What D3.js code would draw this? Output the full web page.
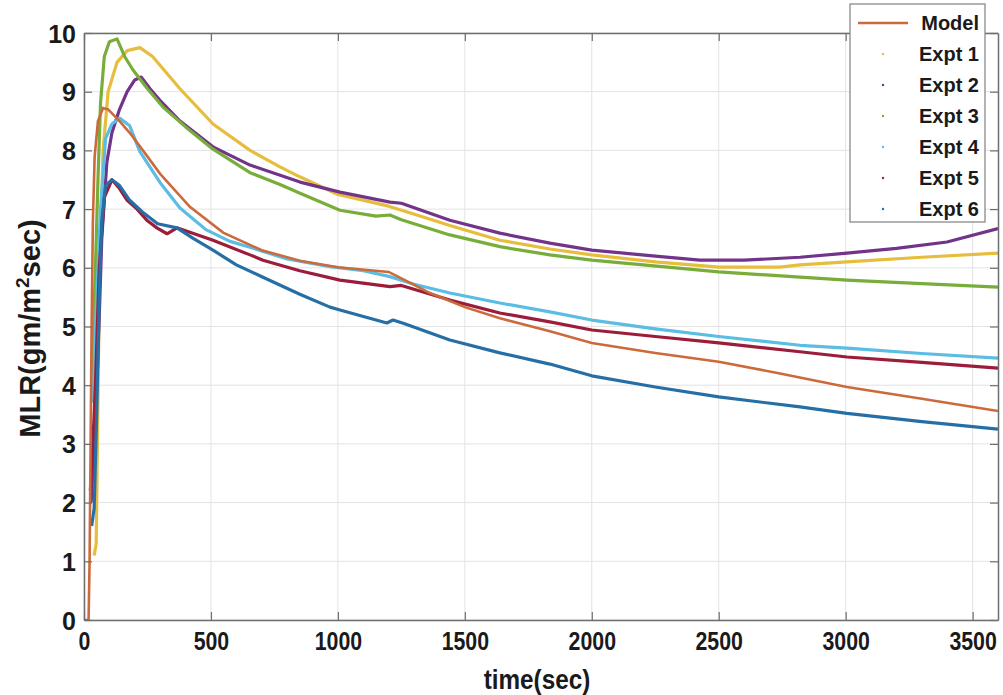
<!DOCTYPE html>
<html>
<head>
<meta charset="utf-8">
<script src="https://cdn.jsdelivr.net/npm/d3@7"></script>
<style>
  html, body { margin: 0; padding: 0; background: #fff; }
  svg { display: block; font-family: "Liberation Sans", Arial, sans-serif; }
</style>
</head>
<body>
<svg id="chart" width="1003" height="695"></svg>
<script>
// [time (sec), MLR]
var model = [[0,0],[18,0],[22,1],[26,3],[30,5],[35,6.8],[42,7.9],[55,8.5],[75,8.72],[95,8.7],[140,8.5],[180,8.3],[232,8.0],[300,7.6],[417,7.04],[548,6.6],[700,6.3],[850,6.12],[1000,6.01],[1200,5.93],[1260,5.8],[1363,5.57],[1500,5.33],[1638,5.14],[1835,4.92],[2000,4.72],[2250,4.55],[2500,4.4],[2741,4.2],[3005,3.97],[3300,3.77],[3600,3.56]];
var expt1 = [[40,1.1],[48,1.3],[60,5.5],[75,8.0],[95,9.0],[130,9.5],[170,9.7],[220,9.75],[270,9.6],[378,9.05],[508,8.45],[654,8.0],[772,7.72],[850,7.55],[1000,7.25],[1200,7.05],[1311,6.9],[1441,6.72],[1638,6.47],[1835,6.32],[2000,6.22],[2250,6.1],[2500,6.01],[2741,6.01],[2820,6.05],[3005,6.1],[3300,6.18],[3600,6.25]];
var expt2 = [[28,2.0],[40,3.0],[55,4.5],[70,6.5],[90,7.8],[110,8.3],[140,8.7],[170,9.0],[200,9.2],[225,9.25],[260,9.05],[300,8.85],[378,8.5],[508,8.06],[654,7.75],[851,7.46],[1008,7.29],[1205,7.12],[1250,7.1],[1441,6.81],[1638,6.59],[1835,6.42],[2000,6.3],[2250,6.2],[2426,6.13],[2600,6.13],[2820,6.18],[3005,6.25],[3200,6.33],[3399,6.44],[3600,6.67]];
var expt3 = [[30,4.0],[45,6.0],[55,7.5],[65,8.8],[80,9.6],[100,9.85],[130,9.9],[160,9.6],[193,9.37],[250,9.05],[311,8.74],[400,8.4],[508,8.02],[654,7.62],[772,7.42],[851,7.27],[1008,6.98],[1150,6.88],[1205,6.9],[1250,6.82],[1441,6.56],[1638,6.36],[1835,6.22],[2000,6.13],[2500,5.93],[2820,5.84],[3005,5.79],[3300,5.73],[3600,5.67]];
var expt4 = [[35,3.7],[50,5.5],[65,7.0],[85,8.2],[110,8.45],[140,8.55],[180,8.42],[220,7.98],[300,7.45],[378,7.02],[480,6.65],[575,6.45],[654,6.35],[800,6.15],[969,6.02],[1100,5.95],[1205,5.85],[1300,5.72],[1441,5.57],[1638,5.4],[1835,5.25],[2000,5.11],[2250,4.96],[2500,4.83],[2820,4.68],[3005,4.63],[3300,4.54],[3600,4.46]];
var expt5 = [[25,2.2],[35,3.0],[45,4.0],[60,6.0],[80,7.2],[110,7.5],[140,7.35],[170,7.15],[209,7.0],[250,6.8],[287,6.68],[327,6.58],[366,6.68],[420,6.6],[508,6.47],[654,6.22],[705,6.13],[850,5.95],[1008,5.79],[1205,5.68],[1250,5.7],[1441,5.45],[1638,5.23],[1835,5.08],[2000,4.94],[2250,4.83],[2500,4.72],[2820,4.57],[3005,4.48],[3300,4.39],[3600,4.29]];
var expt6 = [[30,1.6],[40,1.9],[50,3.5],[60,5.5],[70,6.8],[85,7.4],[110,7.5],[140,7.4],[180,7.15],[230,6.95],[290,6.75],[366,6.68],[430,6.5],[508,6.3],[600,6.05],[705,5.84],[850,5.55],[969,5.33],[1008,5.28],[1193,5.06],[1217,5.11],[1260,5.05],[1441,4.77],[1638,4.55],[1835,4.36],[2000,4.16],[2250,3.97],[2500,3.8],[2820,3.63],[3005,3.52],[3300,3.38],[3600,3.25]];

var seriesNames = ['Model', 'Expt 1', 'Expt 2', 'Expt 3', 'Expt 4', 'Expt 5', 'Expt 6'];
var seriesData = [model, expt1, expt2, expt3, expt4, expt5, expt6];
var seriesColors = ['#cc6a3c', '#e6bd3c', '#72338a', '#79ad3a', '#5bbde3', '#9c1d3a', '#266fa6'];
var xTicks = [0, 500, 1000, 1500, 2000, 2500, 3000, 3500];
var yTicks = [0, 1, 2, 3, 4, 5, 6, 7, 8, 9, 10];

var margin = {top: 33, right: 5, bottom: 75, left: 84};
var W = 1003, H = 695;
var pw = W - margin.left - margin.right;
var ph = H - margin.top - margin.bottom;

var svg = d3.select('#chart');
var g = svg.append('g').attr('transform', 'translate(' + margin.left + ',' + margin.top + ')');

var x = d3.scaleLinear().domain([0, 3600]).range([0, pw]);
var y = d3.scaleLinear().domain([0, 10]).range([ph, 0]);

// grid
g.append('g').selectAll('line').data(xTicks).enter().append('line')
    .attr('x1', function (d) { return x(d); }).attr('x2', function (d) { return x(d); })
    .attr('y1', 0).attr('y2', ph)
    .attr('stroke', '#e3e3e3').attr('stroke-width', 1);
g.append('g').selectAll('line').data(yTicks).enter().append('line')
    .attr('x1', 0).attr('x2', pw)
    .attr('y1', function (d) { return y(d); }).attr('y2', function (d) { return y(d); })
    .attr('stroke', '#e3e3e3').attr('stroke-width', 1);

g.append('clipPath').attr('id', 'clip').append('rect')
    .attr('x', 0).attr('y', -2).attr('width', pw).attr('height', ph + 2);

var line = d3.line()
    .x(function (d) { return x(d[0]); })
    .y(function (d) { return y(d[1]); });

var plot = g.append('g').attr('clip-path', 'url(#clip)');
// experiments first, model on top
for (var i = 1; i < seriesData.length; i++) {
    plot.append('path')
        .datum(seriesData[i])
        .attr('fill', 'none')
        .attr('stroke', seriesColors[i])
        .attr('stroke-width', 3.2)
        .attr('stroke-linejoin', 'round')
        .attr('d', line);
}
plot.append('path')
    .datum(model)
    .attr('fill', 'none')
    .attr('stroke', seriesColors[0])
    .attr('stroke-width', 2.6)
    .attr('d', line);

// axes (ticks inside, box on)
var axisColor = '#6e6e6e';
var xAxis = g.append('g').attr('transform', 'translate(0,' + ph + ')')
    .call(d3.axisBottom(x).tickValues(xTicks).tickFormat(d3.format('d')).tickSize(-8).tickSizeOuter(0).tickPadding(12));
var yAxis = g.append('g')
    .call(d3.axisLeft(y).tickValues(yTicks).tickFormat(d3.format('d')).tickSize(-8).tickSizeOuter(0).tickPadding(8));
var topAxis = g.append('g')
    .call(d3.axisTop(x).tickValues(xTicks).tickSize(-8).tickSizeOuter(0).tickFormat(''));
var rightAxis = g.append('g').attr('transform', 'translate(' + pw + ',0)')
    .call(d3.axisRight(y).tickValues(yTicks).tickSize(-8).tickSizeOuter(0).tickFormat(''));

[xAxis, yAxis, topAxis, rightAxis].forEach(function (a) {
    a.select('.domain').attr('stroke', axisColor).attr('stroke-width', 1.5);
    a.selectAll('.tick line').attr('stroke', axisColor).attr('stroke-width', 1.2);
});
xAxis.selectAll('text')
    .attr('fill', '#1a1a1a').attr('font-size', 26).attr('font-weight', 'bold')
    .attr('transform', 'scale(0.82,1)');
yAxis.selectAll('text')
    .attr('fill', '#1a1a1a').attr('font-size', 25).attr('font-weight', 'bold')
    .attr('dy', '0.36em');

// axis titles
svg.append('text')
    .attr('x', margin.left + pw / 2 - 4).attr('y', 689)
    .attr('text-anchor', 'middle')
    .attr('font-size', 27).attr('font-weight', 'bold').attr('fill', '#1a1a1a')
    .attr('transform', 'translate(' + (margin.left + pw / 2 - 4) * 0.1 + ',0) scale(0.9,1)')
    .text('time(sec)');

var yl = svg.append('text')
    .attr('transform', 'translate(40,' + (margin.top + ph / 2 + 2) + ') rotate(-90)')
    .attr('text-anchor', 'middle')
    .attr('font-size', 29).attr('font-weight', 'bold').attr('fill', '#1a1a1a');
yl.append('tspan').text('MLR(gm/m');
yl.append('tspan').attr('font-size', 19).attr('dy', -11).text('2');
yl.append('tspan').attr('dy', 11).text('sec)');

// legend
var lg = svg.append('g').attr('transform', 'translate(850,4)');
lg.append('rect').attr('x', 0).attr('y', 0).attr('width', 135).attr('height', 218)
    .attr('fill', '#fff').attr('stroke', '#8a8a8a').attr('stroke-width', 1.3);
seriesNames.forEach(function (name, i) {
    var ry = 19 + i * 31;
    if (i === 0) {
        lg.append('line').attr('x1', 8).attr('x2', 58).attr('y1', ry).attr('y2', ry)
            .attr('stroke', seriesColors[0]).attr('stroke-width', 2.6);
    } else {
        lg.append('circle').attr('cx', 33).attr('cy', ry).attr('r', 1.2)
            .attr('fill', seriesColors[i]);
    }
    lg.append('text').attr('x', 129).attr('y', ry).attr('dy', '0.35em')
        .attr('text-anchor', 'end')
        .attr('font-size', 20).attr('font-weight', 'bold').attr('fill', '#1a1a1a')
        .text(name);
});
</script>
</body>
</html>
